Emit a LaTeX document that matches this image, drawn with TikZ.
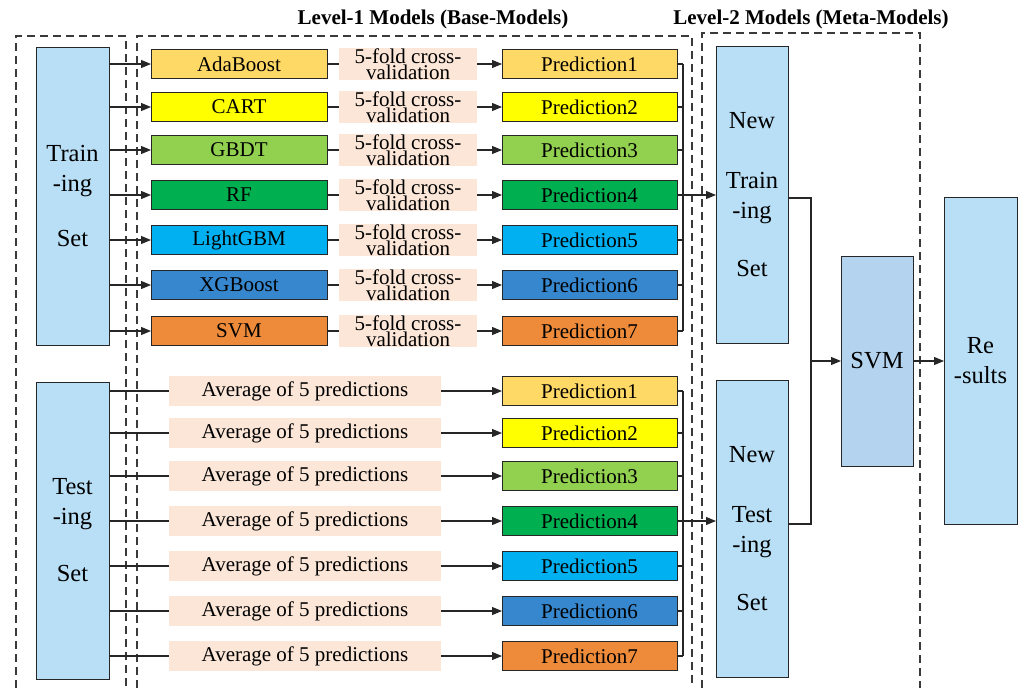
\documentclass[tikz,border=0pt]{standalone}
\usepackage{fontspec}
\setmainfont{Liberation Serif}
\usetikzlibrary{arrows.meta}
\definecolor{cAda}{HTML}{FFD966}
\definecolor{cCart}{HTML}{FFFF00}
\definecolor{cGbdt}{HTML}{92D050}
\definecolor{cRf}{HTML}{00B050}
\definecolor{cLgbm}{HTML}{00B0F0}
\definecolor{cXgb}{HTML}{3687CE}
\definecolor{cSvm}{HTML}{EE8B3A}
\definecolor{lblue}{HTML}{B8DFF6}
\definecolor{sblue}{HTML}{B3D3EE}
\definecolor{peach}{HTML}{FBE6D8}
\definecolor{dashgray}{HTML}{3A3A3A}
\definecolor{edge}{HTML}{262626}
\begin{document}
\begin{tikzpicture}[x=1pt,y=-1pt,
  every node/.style={font=\fontsize{21}{24}\selectfont, inner sep=0pt, outer sep=0pt},
  model/.style={draw=edge, line width=1pt, minimum width=176, minimum height=29},
  predbox/.style={draw=edge, line width=1pt, minimum width=175, minimum height=29},
  cvbox/.style={fill=peach, minimum width=138, minimum height=32, align=center, font=\fontsize{21}{12}\selectfont},
  avgbox/.style={fill=peach, minimum width=272, minimum height=30},
  bigbox/.style={draw=edge, line width=1pt, fill=lblue, align=center, font=\fontsize{24.5}{30}\selectfont},
  frame/.style={draw=dashgray, line width=1.2pt, dash pattern=on 8pt off 5pt},
  conn/.style={draw=black!85, line width=1.1pt},
  arr/.style={conn, -{Triangle[length=10pt,width=8pt]}},
  title/.style={font=\fontsize{21}{24}\selectfont\bfseries}
]
\useasboundingbox (0,0) rectangle (1020,688);

% dashed frames
\draw[frame] (16,688) -- (16,36) -- (126,36) -- (126,688);
\draw[frame] (137,688) -- (137,36) -- (692,36) -- (692,688);
\draw[frame] (702,688) -- (702,33) -- (920,33) -- (920,688);

% titles
\node[title] (t1) at (433,19) {Level-1 Models (Base-Models)};
\node[title] (t2) at (811,19) {Level-2 Models (Meta-Models)};

% big boxes
\node[bigbox, minimum width=73, minimum height=298] (train) at (72.5,196) {Train\\-ing\\[25pt]Set};
\node[bigbox, minimum width=73, minimum height=297] (test) at (72.5,530.5) {Test\\-ing\\[27pt]Set};
\node[bigbox, minimum width=72, minimum height=297] (ntrain) at (752,194.5) {New\\[30pt]Train\\-ing\\[28pt]Set};
\node[bigbox, minimum width=72, minimum height=297] (ntest) at (752,528.5) {New\\[30pt]Test\\-ing\\[28pt]Set};
\node[bigbox, fill=sblue, minimum width=72, minimum height=210] (svm) at (877,361) {SVM};
\node[bigbox, minimum width=73, minimum height=327] (res) at (980.5,360.5) {Re\\-sults};

% top rows
\foreach \i/\y/\nm/\col in {1/64/AdaBoost/cAda, 2/107/CART/cCart, 3/150/GBDT/cGbdt, 4/195/RF/cRf, 5/240/LightGBM/cLgbm, 6/285/XGBoost/cXgb, 7/331/SVM/cSvm}{
  \node[model, fill=\col] (m\i) at (239,\y) {\nm};
  \node[cvbox] (cv\i) at (408,\y) {5-fold cross-\\validation};
  \node[predbox, fill=\col] (p\i) at (589.5,\y) {Prediction\i};
  \draw[arr] (train.east |- m\i.west) -- (m\i.west);
  \draw[conn] (m\i.east) -- (cv\i.west);
  \draw[arr] (cv\i.east) -- (p\i.west);
  \coordinate (pc\i) at (683,\y);
  \draw[conn] (p\i.east) -- (pc\i);
}
\draw[conn] (pc1) -- (pc7);
\draw[arr] (p4.east) -- (p4.east -| ntrain.west);

% bottom rows
\foreach \i/\y/\col in {1/391/cAda, 2/433/cCart, 3/476/cGbdt, 4/521/cRf, 5/566/cLgbm, 6/611/cXgb, 7/656/cSvm}{
  \node[avgbox] (a\i) at (305,\y) {Average of 5 predictions};
  \node[predbox, fill=\col] (q\i) at (589.5,\y) {Prediction\i};
  \draw[conn] (test.east |- a\i.west) -- (a\i.west);
  \draw[arr] (a\i.east) -- (q\i.west);
  \coordinate (qc\i) at (683,\y);
  \draw[conn] (q\i.east) -- (qc\i);
}
\draw[conn] (qc1) -- (qc7);
\draw[arr] (q4.east) -- (q4.east -| ntest.west);

% meta level connectors
\coordinate (jt) at (811,198);
\coordinate (jb) at (811,524);
\draw[conn] (ntrain.east |- jt) -- (jt) -- (jb) -- (ntest.east |- jb);
\draw[arr] (jt |- svm.west) -- (svm.west);
\draw[arr] (svm.east) -- (svm.east -| res.west);
\end{tikzpicture}
\end{document}
